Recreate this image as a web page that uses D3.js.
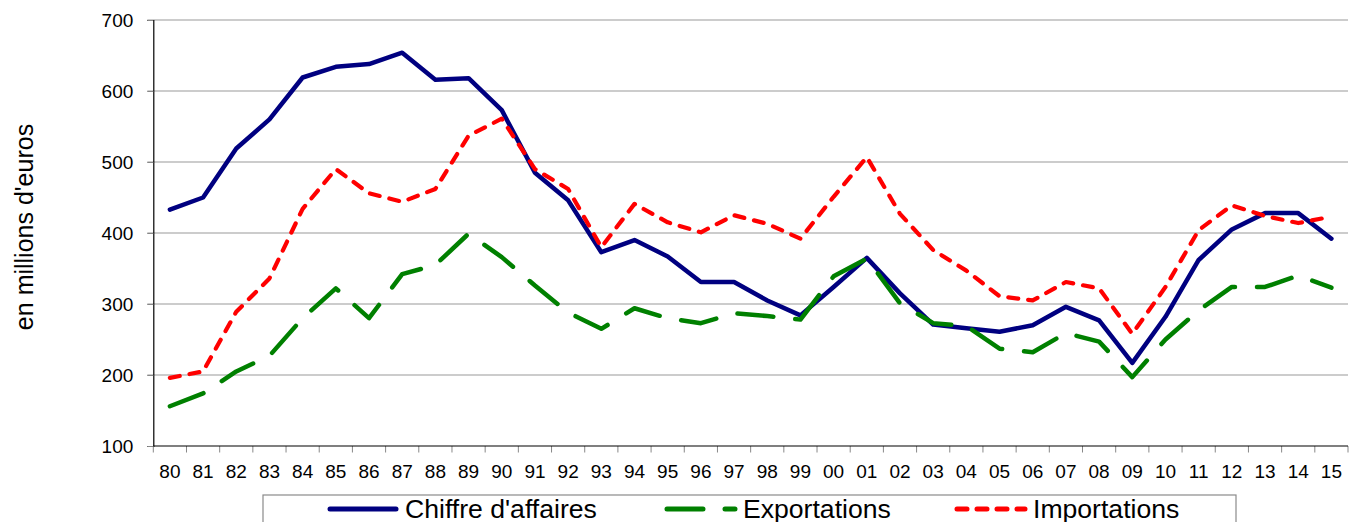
<!DOCTYPE html>
<html>
<head>
<meta charset="utf-8">
<script src="https://cdn.jsdelivr.net/npm/d3@7"></script>
<style>
  html, body { margin: 0; padding: 0; background: #fff; }
  svg { display: block; font-family: Arial, "Liberation Sans", sans-serif; }
</style>
</head>
<body>
<svg id="chart" width="1357" height="522"></svg>
<script>
const years = ["80","81","82","83","84","85","86","87","88","89","90","91","92","93","94","95","96","97","98","99",
               "00","01","02","03","04","05","06","07","08","09","10","11","12","13","14","15"];
const chiffreAffaires = [433, 450, 519, 560, 619, 634, 638, 654, 616, 618, 573, 485, 446, 373, 390, 367, 331, 331, 305, 284,
                         324, 365, 315, 271, 266, 261, 270, 296, 277, 217, 282, 362, 405, 428, 428, 392];
const exportations = [156, 174, 205, 227, 280, 322, 280, 342, 355, 399, 366, 326, 288, 265, 294, 280, 273, 287, 283, 278,
                      339, 364, 301, 273, 269, 237, 232, 259, 247, 197, 250, 291, 324, 324, 340, 323];
const importations = [196, 205, 289, 336, 434, 490, 456, 444, 462, 537, 561, 490, 462, 380, 441, 415, 401, 425, 413, 392,
                      451, 507, 427, 376, 347, 311, 305, 331, 322, 258, 324, 404, 439, 424, 414, 423];
const yTicks = [100, 200, 300, 400, 500, 600, 700];
const seriesNames = ["Chiffre d'affaires", "Exportations", "Importations"];
const yTitle = "en millions d'euros";

(function () {
const svg = d3.select("#chart");
const pLeft = 153.3, pRight = 1348, pTop = 20, pBottom = 446;

const x = d3.scaleBand().domain(years).range([pLeft, pRight]).paddingInner(0).paddingOuter(0);
const y = d3.scaleLinear().domain([100, 700]).range([pBottom, pTop]);

// gridlines
svg.append("g").selectAll("line").data(yTicks.filter(d => d !== 100)).join("line")
  .attr("x1", pLeft - 6).attr("x2", pRight)
  .attr("y1", d => y(d)).attr("y2", d => y(d))
  .attr("stroke", "#9a9a9a").attr("stroke-width", 1.2);

// y axis
const yAxis = svg.append("g").attr("transform", `translate(${pLeft},0)`)
  .call(d3.axisLeft(y).tickValues(yTicks).tickSize(6).tickPadding(14).tickFormat(d3.format("d")));
yAxis.select(".domain").attr("stroke", "#000").attr("stroke-width", 1.2);
yAxis.selectAll(".tick line").attr("stroke", "#888");
yAxis.selectAll(".tick text").attr("font-size", 19).attr("fill", "#000")
  .attr("font-family", "Arial, 'Liberation Sans', sans-serif").attr("dy", "0.36em");

// x axis
const xAxis = svg.append("g").attr("transform", `translate(0,${pBottom})`)
  .call(d3.axisBottom(x).tickSize(0).tickPadding(0));
xAxis.select(".domain").remove();
xAxis.selectAll(".tick text").attr("font-size", 19).attr("fill", "#000")
  .attr("font-family", "Arial, 'Liberation Sans', sans-serif").attr("y", 32).attr("dy", 0);
// x tick marks at band boundaries
const bounds = years.map(d => x(d)).concat([x(years[years.length - 1]) + x.bandwidth()]);
svg.append("g").selectAll("line").data(bounds).join("line")
  .attr("x1", d => d).attr("x2", d => d).attr("y1", pBottom).attr("y2", pBottom + 6.5)
  .attr("stroke", "#888").attr("stroke-width", 1);
svg.append("line").attr("x1", pLeft).attr("x2", pRight).attr("y1", pBottom).attr("y2", pBottom)
  .attr("stroke", "#000").attr("stroke-width", 1.2);

// y title
svg.append("text").attr("transform", "translate(33,227) rotate(-90)")
  .attr("text-anchor", "middle").attr("font-size", 25).attr("fill", "#000").text(yTitle);

const cx = d => x(d) + x.bandwidth() / 2;
const line = d3.line().x((d, i) => cx(years[i])).y(d => y(d));

const series = [
  { name: seriesNames[0], values: chiffreAffaires, color: "#000080", dash: null, width: 4.5 },
  { name: seriesNames[1], values: exportations, color: "#008000", dash: "36,22", width: 4.5 },
  { name: seriesNames[2], values: importations, color: "#ff0000", dash: "10,10", width: 4.2 }
];

series.forEach(s => {
  svg.append("path").datum(s.values).attr("d", line)
    .attr("fill", "none").attr("stroke", s.color).attr("stroke-width", s.width)
    .attr("stroke-linejoin", "round").attr("stroke-linecap", "round")
    .attr("stroke-dasharray", s.dash);
});

// legend
svg.append("rect").attr("x", 263).attr("y", 495).attr("width", 973).attr("height", 60)
  .attr("fill", "#fff").attr("stroke", "#8a8a8a").attr("stroke-width", 1.2);
const legendPos = [{ x1: 330, x2: 396, tx: 405 }, { x1: 667, x2: 735, tx: 743 }, { x1: 957, x2: 1025, tx: 1033 }];
series.forEach((s, i) => {
  const p = legendPos[i];
  svg.append("line").attr("x1", p.x1).attr("x2", p.x2).attr("y1", 509).attr("y2", 509)
    .attr("stroke", s.color).attr("stroke-width", 5).attr("stroke-linecap", "round")
    .attr("stroke-dasharray", s.dash);
  svg.append("text").attr("x", p.tx).attr("y", 517.5).attr("font-size", 26.6).attr("fill", "#000").text(s.name);
});
})();
</script>
</body>
</html>
